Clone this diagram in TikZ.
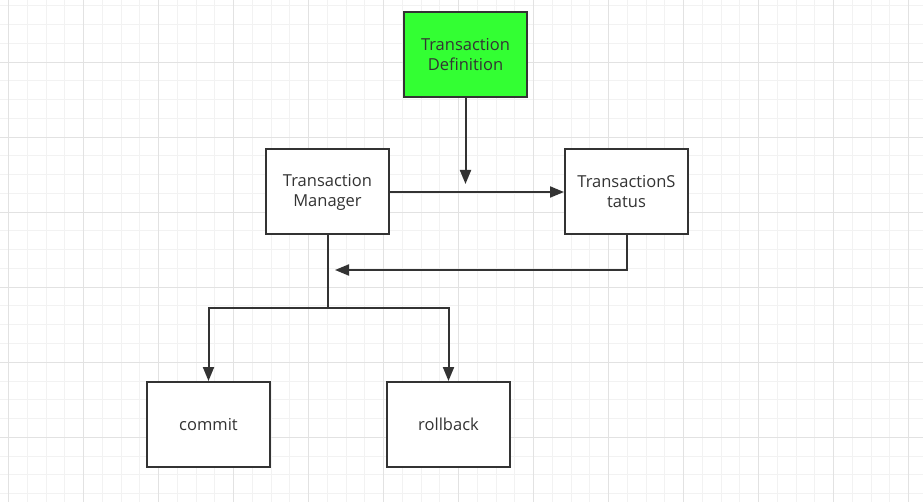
\documentclass[tikz,border=0pt]{standalone}
\usepackage{fontspec}
\setmainfont{Open Sans}
\usepackage{xcolor}
\usetikzlibrary{arrows.meta}

\definecolor{tdgreen}{RGB}{51,255,51}
\definecolor{inkgray}{RGB}{51,51,51}
\definecolor{gridminor}{RGB}{242,242,242}
\definecolor{gridmajor}{RGB}{226,226,226}

\begin{document}
\begin{tikzpicture}[x=1pt, y=-1pt,
    box/.style={rectangle, draw=inkgray, fill=white, line width=2pt, minimum width=123pt, minimum height=85pt,
        align=center, text=inkgray, font=\fontsize{16.5}{20}\selectfont},
    link/.style={draw=inkgray, line width=2pt, -{Triangle[length=14pt, width=11pt]}},
    plain/.style={draw=inkgray, line width=2pt}]
     \useasboundingbox (0,0) rectangle (923,502);
     \fill[white] (0,0) rectangle (923,502);

     % grid paper
     \foreach \k in {0,...,48} {
         \draw[gridminor, line width=1pt] (8.5+18.75*\k, 0) -- (8.5+18.75*\k, 502);
     }
     \foreach \k in {0,...,26} {
         \draw[gridminor, line width=1pt] (0, 6+18.75*\k) -- (923, 6+18.75*\k);
     }
     \foreach \k in {0,...,12} {
         \draw[gridmajor, line width=1pt] (8.5+75*\k, 0) -- (8.5+75*\k, 502);
     }
     \foreach \k in {0,...,6} {
         \draw[gridmajor, line width=1pt] (0, 62.25+75*\k) -- (923, 62.25+75*\k);
     }

     \node[box, fill=tdgreen] (td) at (465.5, 54.5) {Transaction\\Definition};
     \node[box] (tm) at (327.5, 192) {Transaction\\Manager};
     \node[box] (ts) at (626.5, 192) {TransactionS\\tatus};
     \node[box] (commit) at (208.5, 424.5) {commit};
     \node[box] (rollback) at (448.5, 424.5) {rollback};

     \coordinate (tdend) at (465.5, 184);
     \coordinate (back) at (335, 270);
     \coordinate (split) at (327.5, 308);

     \draw[link] (td) -- (tdend);
     \draw[link] (tm) -- (ts);
     \draw[link] (ts.south) |- (back);
     \draw[plain] (tm.south) -- (split);
     \draw[link] (split) -| (commit.north);
     \draw[link] (split) -| (rollback.north);
\end{tikzpicture}
\end{document}
